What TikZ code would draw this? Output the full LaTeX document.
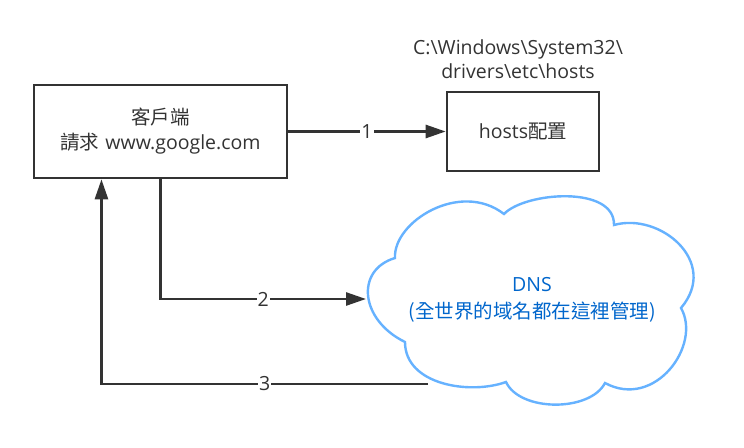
\documentclass[tikz,border=0pt]{standalone}
\usepackage{fontspec}
\setmainfont{Open Sans}
\newfontfamily\cjk{Noto Sans CJK TC}
\usetikzlibrary{arrows.meta,calc}
\definecolor{inkC}{HTML}{333333}
\definecolor{cloudC}{HTML}{66B2FF}
\definecolor{dnsC}{HTML}{0066CC}

\begin{document}
\begin{tikzpicture}[x=1pt,y=-1pt,
  box/.style={draw=inkC,line width=2.6pt,align=center,text=inkC,font=\fontsize{19.5}{25}\selectfont},
  link/.style={draw=inkC,line width=2.6pt,-{Triangle[length=20pt,width=13pt]}},
  tag/.style={fill=white,text=inkC,inner sep=1pt,font=\fontsize{19.5}{20}\selectfont}]
\useasboundingbox (0,0) rectangle (744,447);
\node[box,minimum width=253,minimum height=93] (client) at (160.5,131.5) {{\cjk 客戶端}\\{\cjk 請求}\hspace{6pt}www.google.com};
\node[box,minimum width=152,minimum height=79] (hosts) at (523,131.5) {hosts{\cjk 配置}};
\node[align=center,text=inkC,font=\fontsize{19.5}{24}\selectfont] (path) at (518,59) {C:\textbackslash Windows\textbackslash System32\textbackslash\\drivers\textbackslash etc\textbackslash hosts};
\draw[cloudC,line width=2.4pt,fill=white] (395,258) coordinate (dnsA)
  .. controls (393,222) and (460,180) .. (504,214)
  .. controls (525,192) and (615,185) .. (614,225)
  .. controls (660,212) and (720,262) .. (681,308)
  .. controls (702,345) and (655,410) .. (605,383)
  .. controls (590,412) and (520,412) .. (506,382)
  .. controls (470,395) and (405,385) .. (405,342)
  .. controls (360,320) and (355,270) .. cycle;
\path (366,299) coordinate (dnsW) (428,384) coordinate (dnsSW);
\node[align=center,text=dnsC,font=\fontsize{19.5}{27}\selectfont] (dns) at (532,300) {DNS\\{\cjk (全世界的域名都在這裡管理)}};
\draw[link] (client.east) -- node[tag]{1} (hosts.west);
\draw[link] (client.south) |- node[tag,pos=0.75]{2} (dnsW);
\draw[link] (dnsSW) -| node[tag,pos=0.25]{3} ($(client.south west)!0.269!(client.south east)$);
\end{tikzpicture}
\end{document}
